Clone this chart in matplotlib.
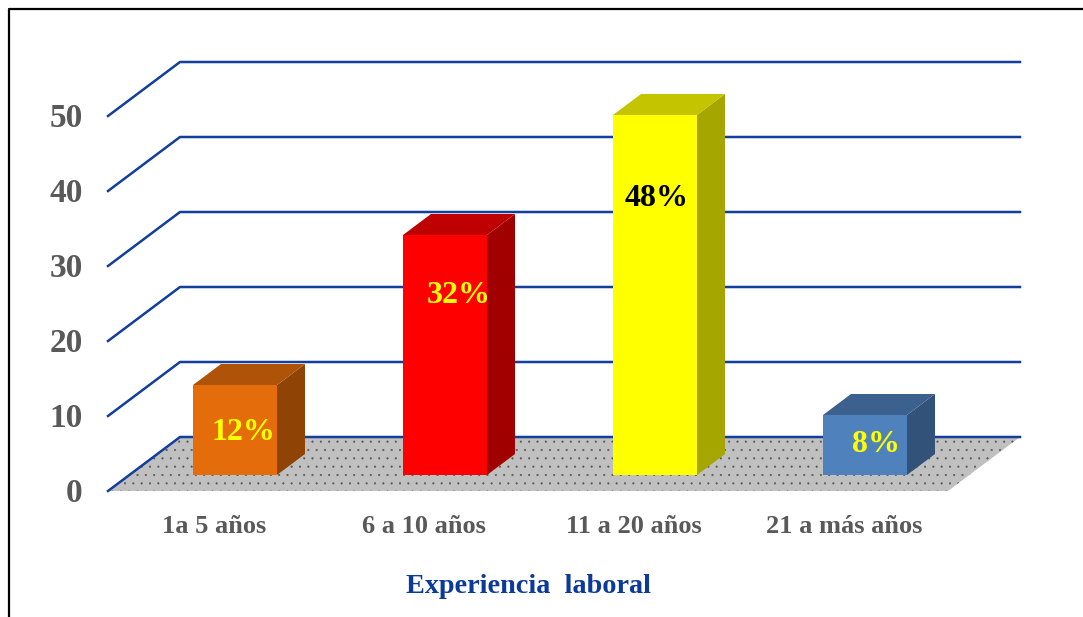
import matplotlib.pyplot as plt
from matplotlib.patches import Polygon

W, H = 1083, 617
DPI = 100

categories = ["1a 5 años", "6 a 10 años", "11 a 20 años", "21 a más años"]
values = [12, 32, 48, 8]
labels = ["12%", "32%", "48%", "8%"]
bar_colors = ["#E46C0A", "#FF0000", "#FFFF00", "#4F81BD"]
top_colors = ["#AE5307", "#BF0000", "#C4C400", "#3C618E"]
side_colors = ["#8F4406", "#A00000", "#A6A600", "#32527A"]
label_colors = ["#FFFF00", "#FFFF00", "#000000", "#FFFF00"]
# where the data labels sit, the chart places them by hand
label_x_shift = [0.04, 0.065, 0.01, 0.05]
label_y = [7.8, 26.1, 39.0, 6.2]
y_ticks = [0, 10, 20, 30, 40, 50]
x_title = "Experiencia  laboral"

GRID_COLOR = "#123F9C"
TICK_COLOR = "#595959"

# depth of the fake 3d box, in data units
DEPTH_X = 72 / 210
DEPTH_Y = 54 / 7.5
BAR_W = 0.4
BAR_SHIFT_X = 22 / 210
BAR_SHIFT_Y = 16 / 7.5
BAR_DEPTH_X = 28 / 210
BAR_DEPTH_Y = 21 / 7.5

plt.rcParams["font.family"] = ["Liberation Serif", "DejaVu Serif"]
plt.rcParams["font.weight"] = "bold"
plt.rcParams["hatch.linewidth"] = 0.3

fig = plt.figure(figsize=(W / DPI, H / DPI), dpi=DPI)

# page frame, only left and top show up in the crop
frame = fig.add_axes([0, 0, 1, 1])
frame.set_xlim(0, W)
frame.set_ylim(H, 0)
frame.set_axis_off()
frame.plot([9, 9, W], [H, 9, 9], color="black", lw=1.6)

ax = fig.add_axes([108 / W, (H - 491) / H, 840 / W, 375 / H])
ax.set_xlim(-0.5, 3.5)
ax.set_ylim(0, 50)
ax.set_axis_off()

x0 = -0.5
x1 = 3.5

floor = Polygon(
    [(x0, 0), (x1, 0), (x1 + DEPTH_X, DEPTH_Y), (x0 + DEPTH_X, DEPTH_Y)],
    facecolor="#C0C0C0", edgecolor="#555555", hatch="..", lw=0, zorder=1, clip_on=False,
)
ax.add_patch(floor)

for t in y_ticks:
    ax.plot(
        [x0, x0 + DEPTH_X, x1 + DEPTH_X],
        [t, t + DEPTH_Y, t + DEPTH_Y],
        color=GRID_COLOR, lw=1.8, zorder=2, clip_on=False,
    )
    ax.text(x0 - 0.12, t - 0.3, str(t), ha="right", va="center", fontsize=24,
            color=TICK_COLOR, zorder=6)

for i, v in enumerate(values):
    left = i - BAR_W / 2 + BAR_SHIFT_X
    right = left + BAR_W
    base = BAR_SHIFT_Y
    top = v + BAR_SHIFT_Y
    front = [(left, base), (right, base), (right, top), (left, top)]
    lid = [(left, top), (right, top), (right + BAR_DEPTH_X, top + BAR_DEPTH_Y),
           (left + BAR_DEPTH_X, top + BAR_DEPTH_Y)]
    side = [(right, base), (right + BAR_DEPTH_X, base + BAR_DEPTH_Y),
            (right + BAR_DEPTH_X, top + BAR_DEPTH_Y), (right, top)]
    ax.add_patch(Polygon(side, facecolor=side_colors[i], lw=0, zorder=3, clip_on=False))
    ax.add_patch(Polygon(lid, facecolor=top_colors[i], lw=0, zorder=3, clip_on=False))
    ax.add_patch(Polygon(front, facecolor=bar_colors[i], lw=0, zorder=4, clip_on=False))
    ax.text(i + BAR_SHIFT_X + label_x_shift[i], label_y[i], labels[i],
            ha="center", va="center", fontsize=23, color=label_colors[i], zorder=5)

for i, c in enumerate(categories):
    ax.text(i + 0.005, -4.7, c, ha="center", va="center", fontsize=19, color=TICK_COLOR)

ax.text(1.5, -12.7, x_title, ha="center", va="center", fontsize=20.3, color="#0B3A9A")

fig.savefig("out.png", dpi=DPI)
